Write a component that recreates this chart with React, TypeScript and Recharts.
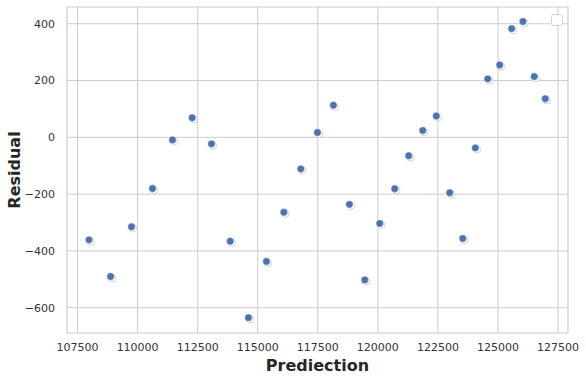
import {
  CartesianGrid,
  ReferenceArea,
  Scatter,
  ScatterChart,
  XAxis,
  YAxis,
} from 'recharts';

const predictions = [
  107974, 108873, 109746, 110620, 111452, 112271, 113074, 113852, 114613, 115362,
  116086, 116793, 117484, 118149, 118815, 119455, 120079, 120703, 121285, 121868,
  122433, 122991, 123532, 124056, 124572, 125071, 125570, 126040, 126510, 126968,
];
const residuals = [
  -361, -490, -315, -180, -9, 69, -23, -366, -635, -437,
  -264, -111, 17, 113, -236, -502, -303, -181, -65, 24,
  75, -195, -356, -37, 206, 255, 383, 408, 214, 136,
];
const xTicks = [107500, 110000, 112500, 115000, 117500, 120000, 122500, 125000, 127500];
const yTicks = [-600, -400, -200, 0, 200, 400];

const xDomain: [number, number] = [107060, 127915];
const yDomain: [number, number] = [-689, 459];

const data = predictions.map((p, i) => ({ pred: p, resid: residuals[i] }));

const font = 'DejaVu Sans, sans-serif';

const Dot = (props: any) => {
  const { cx, cy } = props;
  if (cx == null || cy == null) return null;
  return (
    <g>
      <circle cx={cx + 1.6} cy={cy + 1.6} r={3.6} fill="#ffffff" stroke="#c8c8c8" strokeWidth={0.8} />
      <circle cx={cx} cy={cy} r={3.7} fill="#4c72b0" stroke="#ffffff" strokeWidth={0.4} />
    </g>
  );
};

const minus = (v: number) => String(v).replace('-', '\u2212');

export default function App() {
  return (
    <div style={{ position: 'fixed', left: 0, top: 0, width: 586, height: 379, background: '#fff' }}>
      <ScatterChart width={586} height={379} margin={{ top: 7, right: 18, bottom: 0, left: 0 }}>
        <CartesianGrid stroke="#cccccc" strokeWidth={1} horizontalValues={yTicks} verticalValues={xTicks} />
        <ReferenceArea
          x1={xDomain[0]}
          x2={xDomain[1]}
          y1={yDomain[0]}
          y2={yDomain[1]}
          fill="none"
          stroke="#cccccc"
          strokeWidth={1.2}
          ifOverflow="visible"
        />
        <XAxis
          type="number"
          dataKey="pred"
          domain={xDomain}
          ticks={xTicks}
          allowDataOverflow
          height={46}
          axisLine={false}
          tickLine={false}
          tickSize={6}
          tickMargin={4}
          tick={{ fontSize: 11, fill: '#333333', fontFamily: font }}
          label={{
            value: 'Prediection',
            position: 'insideBottom',
            offset: 8,
            style: { fontSize: 16, fontWeight: 'bold', fill: '#262626', fontFamily: font },
          }}
        />
        <YAxis
          type="number"
          dataKey="resid"
          domain={yDomain}
          ticks={yTicks}
          allowDataOverflow
          width={67}
          axisLine={false}
          tickLine={false}
          tickSize={6}
          tickMargin={6}
          tickFormatter={minus}
          tick={{ fontSize: 11, fill: '#333333', fontFamily: font }}
          label={{
            value: 'Residual',
            angle: -90,
            position: 'insideLeft',
            offset: 14,
            style: { fontSize: 16, fontWeight: 'bold', fill: '#262626', fontFamily: font, textAnchor: 'middle' },
          }}
        />
        <Scatter data={data} shape={<Dot />} isAnimationActive={false} />
      </ScatterChart>
      {/* empty legend box, as in the reference */}
      <div
        style={{
          position: 'absolute',
          left: 551,
          top: 14,
          width: 10,
          height: 10,
          border: '1px solid #d5d5d5',
          borderRadius: 3,
          background: '#fff',
        }}
      />
    </div>
  );
}
